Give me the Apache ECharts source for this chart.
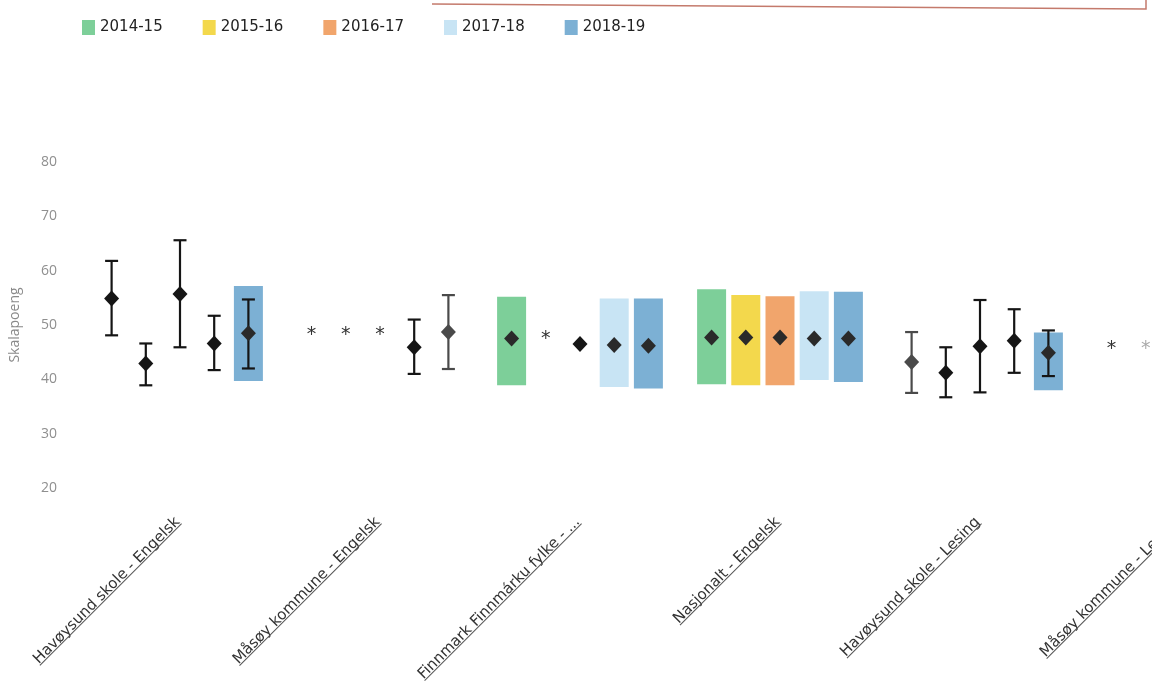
<!DOCTYPE html>
<html>
<head>
<meta charset="utf-8">
<script src="https://cdn.jsdelivr.net/npm/echarts@6/dist/echarts.min.js"></script>
<style>
html,body{margin:0;padding:0;background:#fff;}
#chart{width:1152px;height:698px;}
</style>
</head>
<body>
<div id="chart"></div>
<script>
// ---- data ----
const categories = [
  'Havøysund skole - Engelsk',
  'Måsøy kommune - Engelsk',
  'Finnmark Finnmárku fylke - Engelsk',
  'Nasjonalt - Engelsk',
  'Havøysund skole - Lesing',
  'Måsøy kommune - Lesing'
];
const years = ['2014-15', '2015-16', '2016-17', '2017-18', '2018-19'];
const yTickValues = [20, 30, 40, 50, 60, 70, 80];

// mean (diamond) per year, one value per category
const meanValues = [
  [54.9, null, 47.5, 47.7, 43.2, null],
  [42.9, null, null, 47.7, 41.2, null],
  [55.7, null, 46.5, 47.7, 46.1, null],
  [46.6, 45.9, 46.3, 47.5, 47.1, null],
  [48.5, 48.7, 46.2, 47.5, 44.9, null]
];
// error bar low / high
const errLow = [
  [48.1, null, null, null, 37.5, null],
  [38.9, null, null, null, 36.7, null],
  [45.9, null, null, null, 37.6, null],
  [41.7, 41.0, null, null, 41.2, null],
  [42.0, 41.9, null, null, 40.6, null]
];
const errHigh = [
  [61.8, null, null, null, 48.7, null],
  [46.6, null, null, null, 45.9, null],
  [65.6, null, null, null, 54.6, null],
  [51.7, 51.0, null, null, 52.9, null],
  [54.7, 55.5, null, null, 49.0, null]
];
// shaded band low / high
const bandLow = [
  [null, null, 38.9, 39.1, null, null],
  [null, null, null, 38.9, null, null],
  [null, null, null, 38.9, null, null],
  [null, null, 38.6, 39.9, null, null],
  [39.7, null, 38.3, 39.5, 38.0, null]
];
const bandHigh = [
  [null, null, 55.2, 56.6, null, null],
  [null, null, null, 55.5, null, null],
  [null, null, null, 55.3, null, null],
  [null, null, 54.9, 56.2, null, null],
  [57.2, null, 54.9, 56.1, 48.6, null]
];
// "*" markers, placed at this level
const asteriskAt = [
  [null, 48.9, null, null, null, 46.3],
  [null, 48.9, 48.1, null, null, 46.3],
  [null, 48.9, null, null, null, null],
  [null, null, null, null, null, null],
  [null, null, null, null, null, null]
];

// ---- styling (kept apart from values) ----
const yearColors = ['#7dcf99', '#f3d84c', '#f1a56c', '#c8e4f4', '#7cb0d4'];
const mutedCells = [[1, 4], [4, 0], [5, 1]]; // [category, year] drawn in grey
const LABEL_FONT = '15px "DejaVu Sans"';
const LABEL_MAX = 225;

const chart = echarts.init(document.getElementById('chart'));

const mctx = document.createElement('canvas').getContext('2d');
mctx.font = LABEL_FONT;
function fitLabel(t) {
  if (mctx.measureText(t).width <= LABEL_MAX) return t;
  let s = t;
  while (s.length > 1 && mctx.measureText(s + '...').width > LABEL_MAX) s = s.slice(0, -1);
  return s + '...';
}

function isMuted(cat, yi) {
  return mutedCells.some(m => m[0] === cat && m[1] === yi);
}
function num(v) { return (v === null || v === undefined) ? NaN : v; }

function renderItem(params, api) {
  const yi = params.seriesIndex;
  const cat = api.value(0);
  const band = api.size([1, 0])[0];
  const cx = api.coord([cat, 50])[0] + (yi - 2) * band * 0.171;
  const muted = isMuted(cat, yi);
  const ink = muted ? '#4a4a4a' : '#151515';
  const children = [];
  const bl = api.value(4), bh = api.value(5);
  if (!isNaN(bl) && !isNaN(bh)) {
    const y1 = api.coord([cat, bh])[1], y2 = api.coord([cat, bl])[1];
    children.push({ type: 'rect', shape: { x: cx - 14.5, y: y1, width: 29, height: y2 - y1 },
      style: { fill: yearColors[yi] } });
  }
  const wl = api.value(2), wh = api.value(3);
  if (!isNaN(wl) && !isNaN(wh)) {
    const y1 = api.coord([cat, wh])[1], y2 = api.coord([cat, wl])[1];
    const st = { stroke: ink, lineWidth: 2.2 };
    children.push({ type: 'line', shape: { x1: cx, y1: y1, x2: cx, y2: y2 }, style: st });
    children.push({ type: 'line', shape: { x1: cx - 6.5, y1: y1, x2: cx + 6.5, y2: y1 }, style: st });
    children.push({ type: 'line', shape: { x1: cx - 6.5, y1: y2, x2: cx + 6.5, y2: y2 }, style: st });
  }
  const m = api.value(1);
  if (!isNaN(m)) {
    const cy = api.coord([cat, m])[1];
    const inBand = !isNaN(bl);
    children.push({ type: 'polygon', shape: { points: [[cx, cy - 8], [cx + 7.5, cy], [cx, cy + 8], [cx - 7.5, cy]] },
      style: { fill: inBand ? '#2a2a2a' : ink } });
  }
  const a = api.value(6);
  if (!isNaN(a)) {
    const cy = api.coord([cat, a])[1];
    children.push({ type: 'text', x: cx, y: cy + 4,
      style: { text: '*', fill: (cat === 5 && yi === 1) ? '#aaa' : '#333', font: '19px "DejaVu Sans"',
        align: 'center', verticalAlign: 'middle' } });
  }
  return { type: 'group', children };
}

// category labels: rotated, underlined
function renderLabel(params, api) {
  const ci = api.value(0);
  const p = api.coord([ci, yTickValues[0]]);
  const text = fitLabel(categories[ci]);
  const w = mctx.measureText(text).width;
  return {
    type: 'group', x: p[0] + 3, y: p[1] + 37, rotation: Math.PI / 4,
    children: [
      { type: 'text', x: 0, y: 0, style: { text, font: LABEL_FONT, fill: '#333', align: 'right', verticalAlign: 'bottom' } },
      { type: 'line', shape: { x1: -w, y1: -2, x2: 0, y2: -2 }, style: { stroke: '#555', lineWidth: 1 } }
    ]
  };
}

const series = years.map((yr, yi) => ({
  name: yr,
  type: 'custom',
  renderItem,
  itemStyle: { color: yearColors[yi] },
  encode: { x: 0, y: 1 },
  data: categories.map((c, ci) => [ci, num(meanValues[yi][ci]), num(errLow[yi][ci]), num(errHigh[yi][ci]),
    num(bandLow[yi][ci]), num(bandHigh[yi][ci]), num(asteriskAt[yi][ci])])
}));
series.push({
  name: 'labels', type: 'custom', renderItem: renderLabel, silent: true,
  encode: { x: 0, y: 1 },
  data: categories.map((c, ci) => [ci, yTickValues[0]])
});

chart.setOption({
  animation: false,
  legend: {
    data: years,
    left: 77, top: 15,
    icon: 'rect', itemWidth: 13, itemHeight: 15, itemGap: 40,
    textStyle: { fontSize: 15, color: '#222', fontFamily: 'DejaVu Sans' }
  },
  grid: { left: 80, top: 162, width: 1200, height: 326, containLabel: false, outerBoundsMode: 'none' },
  xAxis: {
    type: 'category',
    data: categories,
    axisLine: { show: false },
    axisTick: { show: false },
    axisLabel: { show: false }
  },
  yAxis: {
    type: 'value', min: yTickValues[0], max: yTickValues[yTickValues.length - 1], interval: 10,
    name: 'Skalapoeng', nameLocation: 'middle', nameGap: 58,
    nameTextStyle: { fontSize: 14, color: '#8a8a8a', fontFamily: 'Open Sans' },
    axisLine: { show: false }, axisTick: { show: false }, splitLine: { show: false },
    axisLabel: { margin: 23, fontSize: 14, color: '#8f8f8f', fontFamily: 'Open Sans' }
  },
  graphic: [{
    type: 'polyline', silent: true,
    shape: { points: [[432, 4], [1146, 9], [1146, 0]] },
    style: { stroke: '#c47a6c', lineWidth: 1.5, fill: null }
  }],
  series
});
</script>
</body>
</html>
